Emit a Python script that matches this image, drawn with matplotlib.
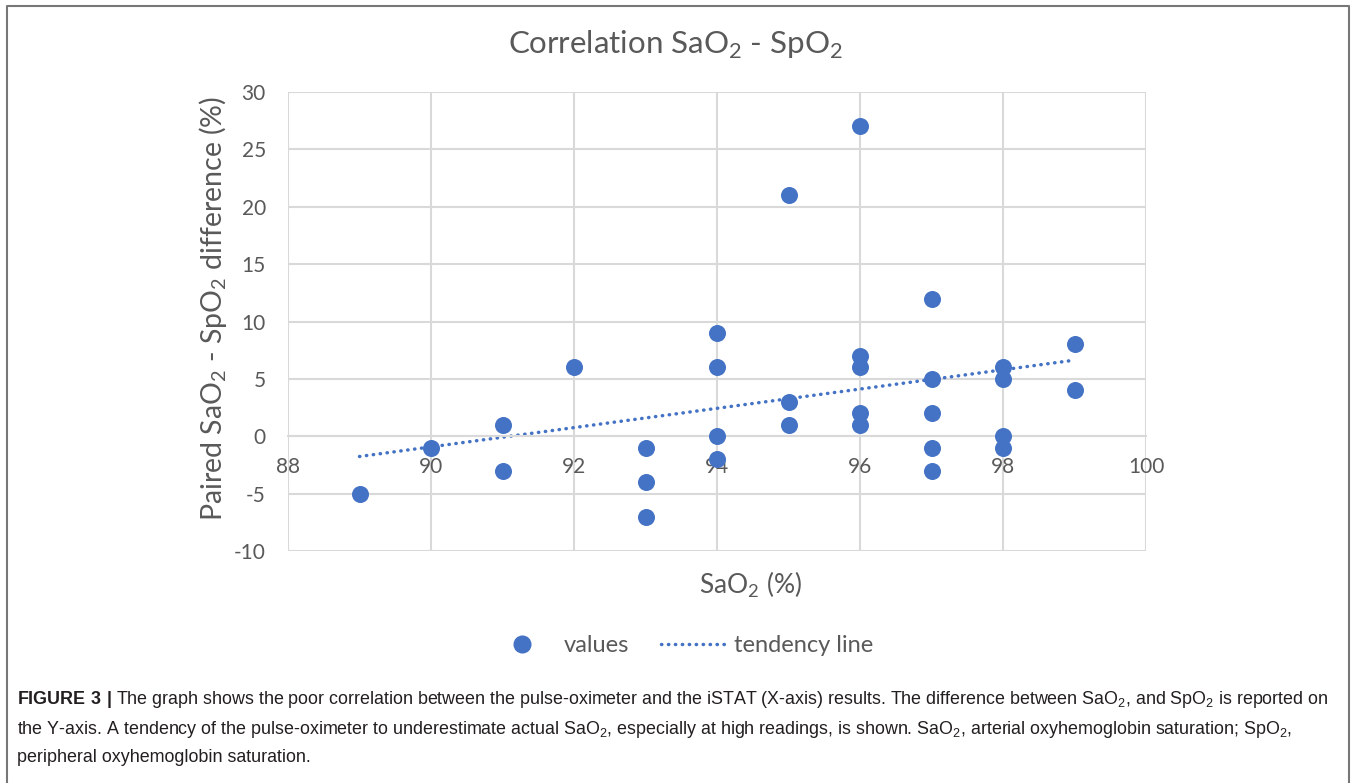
import numpy as np
import matplotlib
matplotlib.use("Agg")
import matplotlib.pyplot as plt
from matplotlib.lines import Line2D

plt.rcParams['font.family'] = ['Lato', 'DejaVu Sans']
plt.rcParams['mathtext.fontset'] = 'custom'
plt.rcParams['mathtext.bf'] = 'Liberation Sans:bold'
plt.rcParams['axes.unicode_minus'] = False

# SaO2 readings and paired SaO2 - SpO2 differences
sao2 = [89, 90, 91, 91, 92, 93, 93, 93, 94, 94, 94, 94,
        95, 95, 95, 96, 96, 96, 96, 96, 97, 97, 97, 97, 97,
        98, 98, 98, 98, 99, 99]
diff = [-5, -1, 1, -3, 6, -1, -4, -7, 9, 6, 0, -2,
        21, 3, 1, 27, 7, 6, 2, 1, 12, 5, 2, -1, -3,
        6, 5, 0, -1, 8, 4]
x_ticks = [88, 90, 92, 94, 96, 98, 100]
y_ticks = [-10, -5, 0, 5, 10, 15, 20, 25, 30]

blue = '#4472C4'
grey = '#595959'
grid = '#d9d9d9'

fig = plt.figure(figsize=(13.57, 7.83), dpi=100)
ax = fig.add_axes([288/1357, 1-551/783, (1146-288)/1357, (551-92)/783])

ax.set_xlim(88, 100)
ax.set_ylim(-10, 30)
ax.set_xticks(x_ticks)
ax.set_yticks(y_ticks)
ax.grid(True, color=grid, lw=1.5)
ax.set_axisbelow(True)
for s in ['top', 'right', 'left']:
    ax.spines[s].set_visible(False)
# x labels sit on the zero line like Excel does
ax.spines['bottom'].set_position(('data', 0))
ax.spines['bottom'].set_color(grid)
ax.spines['bottom'].set_linewidth(1.5)
ax.tick_params(axis='both', length=0, labelsize=15, labelcolor=grey)
ax.tick_params(axis='x', pad=15)
ax.tick_params(axis='y', pad=16)

ax.scatter(sao2, diff, s=150, color=blue, zorder=3, linewidths=0)

# linear tendency line
k, b = np.polyfit(sao2, diff, 1)
xs = np.array([min(sao2), max(sao2)])
ax.plot(xs, k * xs + b, color=blue, lw=2.5, linestyle=(0, (0.1, 1.9)),
        dash_capstyle='round', zorder=2)

fig.text(675/1357, 1-45/783, r'Correlation SaO$_\mathregular{2}$ - SpO$_\mathregular{2}$',
         ha='center', va='center', fontsize=22.5, color=grey)
fig.text(213/1357, 1-308/783, r'Paired SaO$_\mathregular{2}$ - SpO$_\mathregular{2}$ difference (%)',
         ha='center', va='center', rotation=90, fontsize=20.5, color=grey)
fig.text(750/1357, 1-585/783, r'SaO$_\mathregular{2}$ (%)',
         ha='center', va='center', fontsize=19, color=grey)

handles = [Line2D([], [], ls='none', marker='o', ms=12, color=blue, mec=blue),
           Line2D([], [], color=blue, lw=2.5, ls=(0, (0.1, 1.9)), dash_capstyle='round')]
fig.legend(handles, ['values', 'tendency line'], loc='center', ncol=2,
           bbox_to_anchor=(682/1357, 1-646/783), frameon=False, fontsize=17,
           labelcolor=grey, handlelength=2.67, columnspacing=1.36, handletextpad=0.43)

# outer frame
fig.add_artist(Line2D([7/1357, 7/1357, 1349/1357, 1349/1357],
                      [0, 1-6/783, 1-6/783, 0], color='#777777', lw=1.5,
                      transform=fig.transFigure))

cap = dict(fontsize=12.9, color='#231f20', family='Liberation Sans', ha='left', va='center')
fig.text(17/1357, 1-700/783,
         r'$\mathbf{FIGURE\ 3\ |}$ The graph shows the poor correlation between the pulse-oximeter and the iSTAT (X-axis) results. '
         r'The difference between SaO$_\mathregular{2}$, and SpO$_\mathregular{2}$ is reported on', **cap)
fig.text(17/1357, 1-729/783,
         r'the Y-axis. A tendency of the pulse-oximeter to underestimate actual SaO$_\mathregular{2}$, especially at high readings, '
         r'is shown. SaO$_\mathregular{2}$, arterial oxyhemoglobin saturation; SpO$_\mathregular{2}$,', **cap)
fig.text(17/1357, 1-758/783, 'peripheral oxyhemoglobin saturation.', **cap)

fig.savefig('out.png', dpi=100)
